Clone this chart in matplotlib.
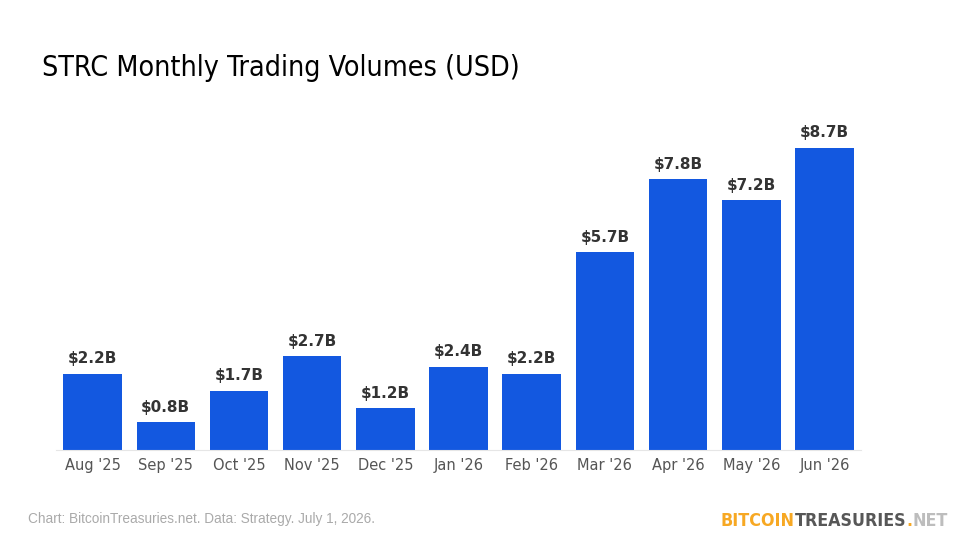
import numpy as np
import matplotlib
matplotlib.use('agg')
import matplotlib.pyplot as plt

months = ["Aug '25", "Sep '25", "Oct '25", "Nov '25", "Dec '25", "Jan '26",
          "Feb '26", "Mar '26", "Apr '26", "May '26", "Jun '26"]
volumes = [2.2, 0.8, 1.7, 2.7, 1.2, 2.4, 2.2, 5.7, 7.8, 7.2, 8.7]
labels = ["$2.2B", "$0.8B", "$1.7B", "$2.7B", "$1.2B", "$2.4B",
          "$2.2B", "$5.7B", "$7.8B", "$7.2B", "$8.7B"]

fig = plt.figure(figsize=(9.6, 5.4), dpi=100)
ax = fig.add_axes([56/960, 1-450/540, (861-56)/960, (450-100)/540])

x = np.arange(len(months))
bars = ax.bar(x, volumes, width=0.8, color="#1358e0")
for b, lab in zip(bars, labels):
    ax.text(b.get_x()+b.get_width()/2, b.get_height()+0.22, lab.replace("$", r"\$"),
            ha="center", va="bottom", fontsize=11, fontweight="bold", color="#333333")

ax.set_xlim(-0.5, 10.5)
ax.set_ylim(0, 350/34.7)
ax.set_xticks(x)
ax.set_xticklabels(months, fontsize=10.5, color="#555555")
ax.tick_params(axis="x", length=0, pad=6)
ax.set_yticks([])
for s in ["top", "right", "left"]:
    ax.spines[s].set_visible(False)
ax.spines["bottom"].set_color("#e6e6e6")

fig.text(42/960, 1-68/540, "STRC Monthly Trading Volumes (USD)", fontsize=20.5,
         family="DejaVu Sans", stretch="condensed", color="black", va="center", ha="left")
fig.text(28/960, 1-519/540, "Chart: BitcoinTreasuries.net. Data: Strategy. July 1, 2026.",
         fontsize=9.8, family="Liberation Sans", color="#aaaaaa", va="center", ha="left")

# logo, drawn piece by piece then shifted to end at x=948
fig.canvas.draw()
r = fig.canvas.get_renderer()
xpos = 718
parts = []
for part, col in [("BITCOIN", "#f7a823"), ("TREASURIES", "#575757"),
                  (".", "#f7a823"), ("NET", "#bdbdbd")]:
    t = fig.text(xpos/960, 1-521/540, part, fontsize=12.8, fontweight="bold",
                 family="DejaVu Sans", stretch="condensed", color=col,
                 va="center", ha="left")
    parts.append(t)
    xpos = t.get_window_extent(r).x1
shift = (948 - xpos) / 960
for t in parts:
    px, py = t.get_position()
    t.set_position((px + shift, py))

fig.savefig("out.png", dpi=100)
